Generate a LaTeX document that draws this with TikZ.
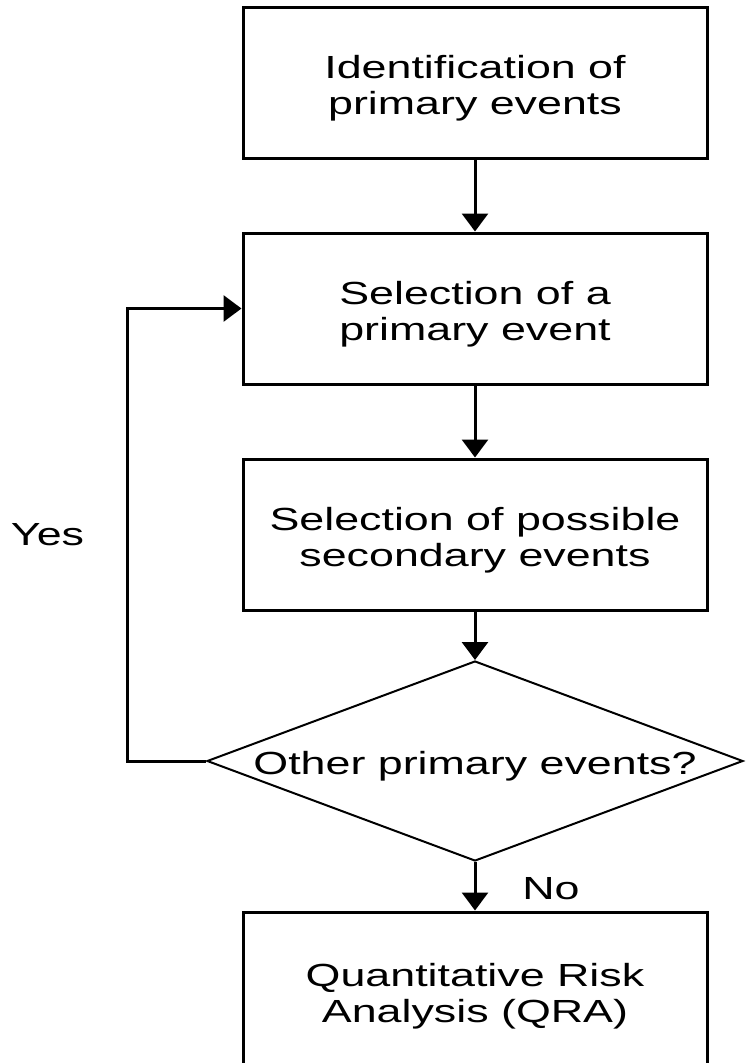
\documentclass[tikz,border=0pt]{standalone}
\usepackage{fontspec}
\setmainfont{Liberation Sans}[FakeStretch=1.4]
\usepackage{tikz}
\usetikzlibrary{arrows.meta,positioning,shapes.geometric}
\newcommand{\chartfont}{\fontsize{32}{36}\selectfont}
\newcommand{\topstrut}{\rule{0pt}{34.5pt}}

\begin{document}
\begin{tikzpicture}[
  x=1pt, y=1pt,
  node distance=72pt,
  procbox/.style={rectangle, draw=black, line width=3pt, minimum width=464pt, minimum height=151pt, inner sep=0pt, align=center, font=\chartfont},
  decbox/.style={diamond, draw=black, line width=2pt, minimum width=536pt, minimum height=200pt, shape aspect=2.68, inner xsep=-12pt, inner ysep=-5pt, font=\chartfont},
  arr/.style={-{Triangle[width=26pt,length=18pt]}, line width=3pt},
  lbl/.style={font=\chartfont, inner sep=0pt}
]
\useasboundingbox (0,0) rectangle (745,-1063);

% Main column
\node[procbox] (ident) at (475,-82.5) {\topstrut Identification of\\primary events};
\node[procbox, below=of ident] (select) {\topstrut Selection of a\\primary event};
\node[procbox, below=of select] (second) {\topstrut Selection of possible\\secondary events};
\node[decbox, below=48.5pt of second] (other) {\topstrut Other primary events?};
\node[procbox, below=48.5pt of other, minimum height=157pt] (qra) {\topstrut Quantitative Risk\\Analysis (QRA)};

% Arrows
\draw[arr] (ident) -- (select);
\draw[arr] (select) -- (second);
\draw[arr] (second) -- (other);
\draw[arr] (other) -- (qra);

% Loop back
\draw[arr] (other.west) -- ++(-79,0) |- (select.west);

% Labels
\node[lbl] (yes) at (47.5,-535) {Yes};
\node[lbl] (no) at (551,-888.5) {No};

\end{tikzpicture}
\end{document}
